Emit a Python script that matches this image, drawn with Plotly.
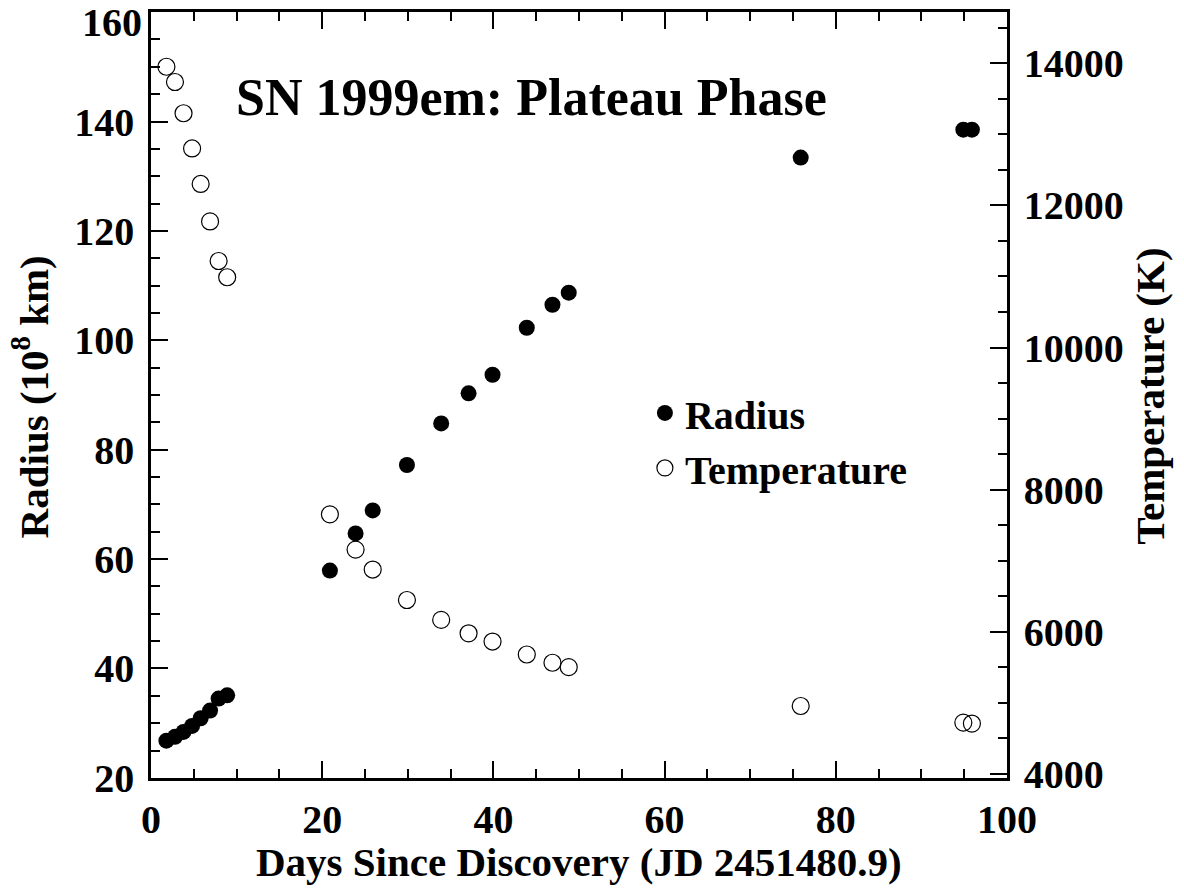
import plotly.graph_objects as go

days = [1.8, 2.8, 3.8, 4.8, 5.8, 6.9, 7.9, 8.9, 20.9, 23.9, 25.9, 29.9, 33.9, 37.1,
        39.9, 43.9, 46.9, 48.8, 75.9, 94.9, 95.9]
radius = [26.8, 27.5, 28.4, 29.5, 30.9, 32.3, 34.5, 35.1, 57.9, 64.7, 68.9, 77.2, 84.8,
          90.3, 93.7, 102.3, 106.5, 108.7, 133.4, 138.5, 138.5]
temperature = [13954, 13739, 13299, 12803, 12303, 11775, 11218, 10989, 7650, 7154, 6873,
               6444, 6163, 5975, 5859, 5676, 5560, 5498, 4951, 4717, 4704]

x_ticks = [0, 20, 40, 60, 80, 100]
radius_ticks = [20, 40, 60, 80, 100, 120, 140, 160]
temp_ticks = [4000, 6000, 8000, 10000, 12000, 14000]

FONT = "Liberation Serif"
fig = go.Figure()
fig.add_trace(go.Scatter(x=days, y=radius, mode="markers", name="Radius",
                         marker=dict(symbol="circle", size=16, color="black",
                                     line=dict(width=0))))
fig.add_trace(go.Scatter(x=days, y=temperature, mode="markers", name="Temperature",
                         yaxis="y2",
                         marker=dict(symbol="circle-open", size=17, color="black",
                                     line=dict(width=1.2, color="black"))))

tickfont = dict(family=FONT, size=40, color="black", weight="bold")
common = dict(showline=True, linecolor="black", linewidth=2.5, ticks="inside",
              ticklen=17, tickwidth=2.2, tickcolor="black", showgrid=False,
              zeroline=False, tickfont=tickfont, tickmode="array")

# the top radius label sits just below the frame top (as in the reference)
radius_text = [str(v) for v in radius_ticks[:-1]] + [""]

fig.update_layout(
    width=1184, height=888,
    margin=dict(l=151, r=177, t=9, b=110),
    paper_bgcolor="white", plot_bgcolor="white",
    showlegend=True,
    legend=dict(x=0.577, y=0.519, xanchor="left", yanchor="top",
                font=dict(family=FONT, size=40, color="black", weight="bold"),
                bgcolor="rgba(0,0,0,0)", borderwidth=0, tracegroupgap=0),
    xaxis=dict(range=[0, 100], tickvals=x_ticks, ticktext=[str(v) for v in x_ticks],
               mirror="ticks", ticklabelstandoff=4,
               minor=dict(dtick=5, ticks="inside", ticklen=9, tickwidth=2,
                          tickcolor="black"),
               **common),
    yaxis=dict(range=[19.98, 160.02], tickvals=radius_ticks,
               ticktext=radius_text, mirror=False,
               ticklabelstandoff=6,
               minor=dict(dtick=5, ticks="inside", ticklen=9, tickwidth=2,
                          tickcolor="black"),
               **common),
    yaxis2=dict(range=[3937, 14725], tickvals=temp_ticks,
                ticktext=[str(v) for v in temp_ticks], overlaying="y",
                side="right", ticklabelstandoff=6,
                minor=dict(tick0=4000, dtick=500, ticks="inside", ticklen=9,
                           tickwidth=2, tickcolor="black"),
                **common),
    annotations=[
        dict(text=str(radius_ticks[-1]), x=0, y=radius_ticks[-1], xref="paper",
             yref="y", showarrow=False, xanchor="right", yanchor="middle",
             xshift=-7, yshift=-10,
             font=dict(family=FONT, size=40, color="black", weight="bold")),
        dict(text="SN 1999em: Plateau Phase", x=0.445, y=0.888, xref="paper",
             yref="paper", showarrow=False, xanchor="center", yanchor="middle",
             font=dict(family=FONT, size=52, color="black", weight="bold")),
        dict(text="Days Since Discovery (JD 2451480.9)", x=0.5, y=-0.11,
             xref="paper", yref="paper", showarrow=False, xanchor="center",
             yanchor="middle",
             font=dict(family=FONT, size=41, color="black", weight="bold")),
        dict(text="Radius (10<sup>8</sup> km)", x=-0.1415, y=0.498, xref="paper",
             yref="paper", showarrow=False, xanchor="center", yanchor="middle",
             textangle=-90,
             font=dict(family=FONT, size=41, color="black", weight="bold")),
        dict(text="Temperature (K)", x=1.166, y=0.498, xref="paper",
             yref="paper", showarrow=False, xanchor="center", yanchor="middle",
             textangle=-90,
             font=dict(family=FONT, size=41, color="black", weight="bold")),
    ],
)

fig.write_html("out.html")
